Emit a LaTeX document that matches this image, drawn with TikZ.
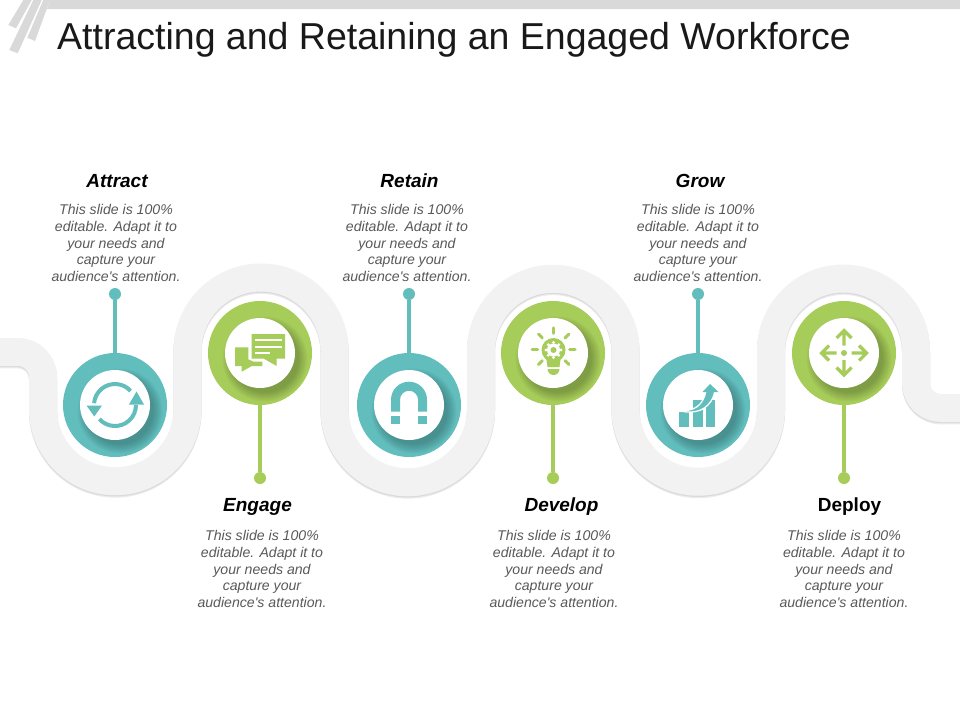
\documentclass[tikz,border=0pt]{standalone}
\usepackage{fontspec}
\defaultfontfeatures[\rmfamily]{}
\setmainfont{Liberation Sans}
\definecolor{teal1}{HTML}{62BDBD}
\definecolor{green1}{HTML}{A6CC5A}
\definecolor{ribbon}{HTML}{F2F2F3}
\definecolor{ribshade}{HTML}{DADADE}
\definecolor{ribsoft}{HTML}{ECECEE}
\definecolor{barg}{HTML}{D9D9D9}
\definecolor{bodyg}{HTML}{595959}
\tikzset{
  ringnode/.style={circle,minimum size=104pt,inner sep=0pt,outer sep=0pt},
  whitenode/.style={circle,fill=white,minimum size=70pt,inner sep=0pt,outer sep=0pt},
  dotnode/.style={circle,minimum size=12pt,inner sep=0pt,outer sep=0pt},
  stemline/.style={line width=3.5pt},
  titletext/.style={font=\fontsize{19}{22}\selectfont\bfseries\itshape,text=black,inner sep=0pt},
  bodytext/.style={font=\fontsize{14.1}{16.7}\selectfont\itshape,text=bodyg,align=center,inner sep=0pt},
  ribbonpath/.style={line width=28pt,line join=round},
  rayline/.style={line width=3pt,line cap=round,draw=green1},
  arrline/.style={line width=3.2pt,draw=green1,line cap=butt,line join=miter}
}
\newcommand{\ribbonshape}{(0,352) -- (18,352) arc[start angle=90,end angle=0,radius=25pt]
  -- (43,409) arc[start angle=180,end angle=360,radius=72.25pt]
  -- (187.5,351) arc[start angle=180,end angle=0,radius=73.5pt]
  -- (334.5,409) arc[start angle=180,end angle=360,radius=73.25pt]
  -- (481,351) arc[start angle=180,end angle=0,radius=72.25pt]
  -- (625.5,409) arc[start angle=180,end angle=360,radius=72.75pt]
  -- (771,351) arc[start angle=180,end angle=0,radius=72.5pt]
  -- (916,383) arc[start angle=180,end angle=270,radius=25pt] -- (960,408)}
\newcommand{\blurb}{This slide is 100\%\\editable. Adapt it to\\your needs and\\capture your\\audience's attention.}
% #1 name, #2 x, #3 y, #4 colour
\newcommand{\ringitem}[4]{%
  \node[ringnode,fill=#4] (#1) at (#2,#3) {};
  \begin{scope}
    \clip (#2,#3) circle[radius=52pt];
    \foreach \s in {0,...,9}{
      \fill[black,opacity=0.025] (#2+5,#3+6) circle[radius={(42.5-\s)*1pt}];
    }
  \end{scope}
  \node[whitenode] (#1w) at (#2,#3) {};
}
\begin{document}
\begin{tikzpicture}[x=1pt,y=-1pt]
\useasboundingbox (0,0) rectangle (960,720);
\fill[white] (0,0) rectangle (960,720);
% header
\fill[barg] (50,0) -- (960,0) -- (960,9) -- (47,9) -- cycle;
\fill[barg] (23.3,0) -- (31.7,0) -- (16,28.3) -- (8.3,25) -- cycle;
\fill[barg] (33.3,0) -- (41.7,0) -- (17.7,53.3) -- (9.3,50) -- cycle;
\fill[barg] (43.3,0) -- (50,0) -- (35,41) -- (27.3,37.7) -- cycle;
\node[anchor=west,font=\fontsize{37.5}{40}\selectfont,text=black!90,inner sep=0pt] (maintitle) at (57,39.5) {Attracting and Retaining an Engaged Workforce};
% ribbon
\draw[ribbonpath,draw=ribsoft,yshift=-2.4pt] \ribbonshape;
\draw[ribbonpath,draw=ribshade,yshift=-1.2pt] \ribbonshape;
\draw[ribbonpath,draw=ribbon] \ribbonshape;
% stems + dots
\node[dotnode,fill=teal1] (d1) at (115,294) {};
\node[dotnode,fill=green1] (d2) at (260,478) {};
\node[dotnode,fill=teal1] (d3) at (409,294) {};
\node[dotnode,fill=green1] (d4) at (553,478) {};
\node[dotnode,fill=teal1] (d5) at (698,294) {};
\node[dotnode,fill=green1] (d6) at (844,478) {};
\ringitem{r1}{115}{405}{teal1}
\ringitem{r2}{260}{353}{green1}
\ringitem{r3}{409}{405}{teal1}
\ringitem{r4}{553}{353}{green1}
\ringitem{r5}{698}{405}{teal1}
\ringitem{r6}{844}{353}{green1}
\draw[stemline,draw=teal1] (d1) -- (r1);
\draw[stemline,draw=green1] (d2) -- (r2);
\draw[stemline,draw=teal1] (d3) -- (r3);
\draw[stemline,draw=green1] (d4) -- (r4);
\draw[stemline,draw=teal1] (d5) -- (r5);
\draw[stemline,draw=green1] (d6) -- (r6);
% labels
\node[titletext] (t1) at (117,181) {Attract};
\node[titletext] (t2) at (257.5,507) {Engage};
\node[titletext] (t3) at (409.5,181) {Retain};
\node[titletext] (t4) at (561.5,507) {Develop};
\node[titletext] (t5) at (700,181) {Grow};
\node[titletext,font=\fontsize{19}{22}\selectfont\bfseries] (t6) at (849.5,507) {Deploy};
\node[bodytext] (b1) at (116,243) {\blurb};
\node[bodytext] (b2) at (262,569) {\blurb};
\node[bodytext] (b3) at (407,243) {\blurb};
\node[bodytext] (b4) at (554,569) {\blurb};
\node[bodytext] (b5) at (698,243) {\blurb};
\node[bodytext] (b6) at (844,569) {\blurb};
% icon: refresh
\draw[teal1,line width=4pt] ([shift={(115,405)}]175:21pt) arc[start angle=175,end angle=42,radius=21pt];
\draw[teal1,line width=4pt] ([shift={(115,405)}]222:21pt) arc[start angle=222,end angle=360,radius=21pt];
\fill[teal1] (86.5,405.5) -- (102,405.5) -- (94.3,416.5) -- cycle;
\fill[teal1] (129,404.5) -- (144,404.5) -- (136.5,391.5) -- cycle;
% icon: chat
\fill[green1] (235,347.3) -- (248.3,347.3) -- (248.3,359.3) -- (253.3,361.7) -- (262.3,361.7) -- (262.3,366) -- (251.7,366) -- (241.7,371.7) -- (241.7,366) -- (235,366) -- cycle;
\fill[green1] (251.5,334) -- (285,334) -- (285,358.5) -- (276.7,358.5) -- (276.7,366) -- (263.5,358.5) -- (251.5,358.5) -- cycle;
\draw[white,line width=2pt] (255,340) -- (282,340) (255,346.7) -- (282,346.7) (255,353.3) -- (270,353.3);
% icon: magnet
\fill[teal1] (391,411.7) -- (391,399.7) arc[start angle=180,end angle=0,radius=18pt] -- (427,411.7) -- (418,411.7) -- (418,399.7) arc[start angle=0,end angle=180,radius=9pt] -- (400,411.7) -- cycle;
\fill[teal1] (391,415.7) rectangle (400,424);
\fill[teal1] (418,415.7) rectangle (427,424);
% icon: bulb
\fill[green1] (553.5,350) circle[radius=12pt];
\fill[green1] (546,356) -- (561,356) -- (559.5,367) -- (547.5,367) -- cycle;
\fill[green1] (547.5,369) -- (559.5,369) arc[start angle=0,end angle=-180,radius=6pt] -- cycle;
\fill[white] (553.5,350) circle[radius=6.5pt];
\foreach \a in {0,45,...,315}{
  \fill[white] ([shift={(553.5,350)}]\a:7.5pt) circle[radius=1.6pt];
}
\fill[green1] (553.5,350) circle[radius=3pt];
\foreach \a in {0,45,135,90,180,225,315}{
  \draw[rayline] ([shift={(553.7,349.3)}]\a:16pt) -- ([shift={(553.7,349.3)}]\a:21.5pt);
}
% icon: growth chart
\fill[teal1] (679,411.7) rectangle (689.3,426.7);
\fill[teal1] (692.7,400) rectangle (702.7,426.7);
\fill[teal1] (706,400) rectangle (715.3,426.7);
\fill[teal1,draw=white,line width=1.3pt] (678,410.5) .. controls (695,412) and (703,405) .. (706,391) -- (715,391) .. controls (712,406) and (700,416) .. (678,410.5) -- cycle;
\fill[teal1] (710,384) -- (718.5,392) -- (702.5,392) -- cycle;
% icon: four arrows
\draw[arrline] (844,345.5) -- (844,331) (836.5,338) -- (844,330.5) -- (851.5,338);
\draw[arrline] (844,360) -- (844,375) (836.5,367.5) -- (844,375) -- (851.5,367.5);
\draw[arrline] (836.5,353) -- (822,353) (829,345.5) -- (821.5,353) -- (829,360.5);
\draw[arrline] (851.5,353) -- (866,353) (859,345.5) -- (866.5,353) -- (859,360.5);
\fill[green1] (844,353) circle[radius=3pt];
\end{tikzpicture}
\end{document}
